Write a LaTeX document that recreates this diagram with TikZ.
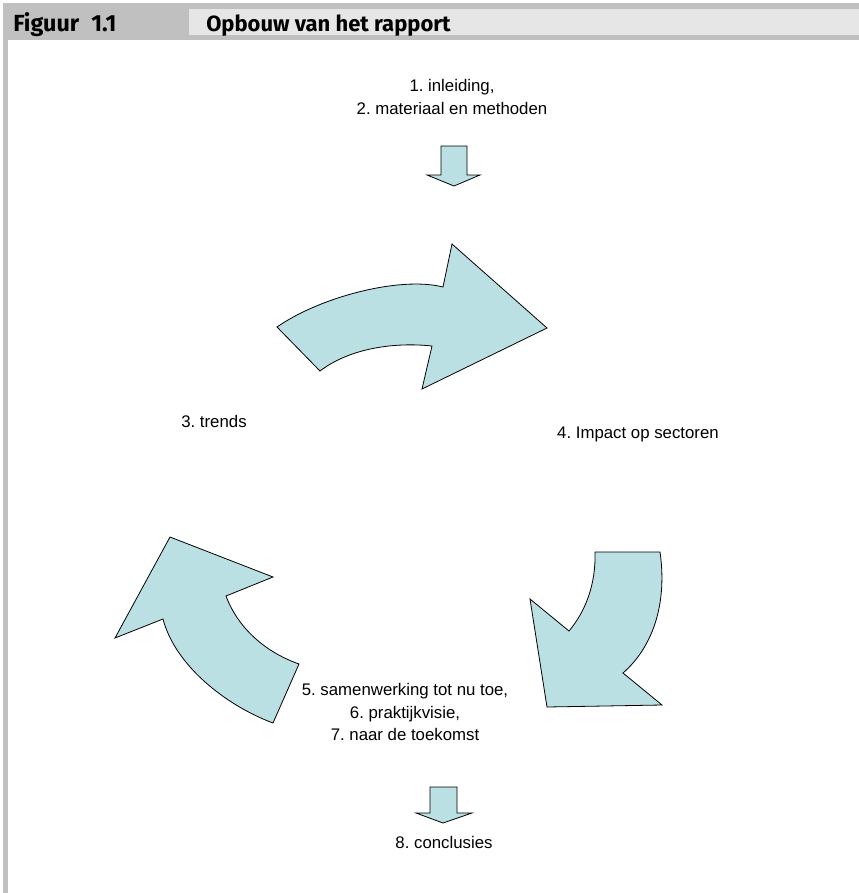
\documentclass[tikz,border=0pt]{standalone}
\usepackage{fontspec}
\setmainfont{Liberation Sans}
\newfontfamily\kopfont{Fira Sans}
\usetikzlibrary{positioning}
\definecolor{pijlblauw}{HTML}{BBE0E3}
\definecolor{kopgrijs}{HTML}{C0C0C0}
\definecolor{koplicht}{HTML}{E6E6E6}
\frenchspacing

\begin{document}
\begin{tikzpicture}[x=0.75pt,y=-0.75pt,
  pijl/.style={draw=black,fill=pijlblauw,line width=0.6pt,line join=miter},
  tekst/.style={align=center,font=\fontsize{12.6}{17}\selectfont,inner sep=0pt},
  kop/.style={anchor=base west,inner sep=0pt,font=\kopfont\bfseries\fontsize{16.5}{20}\selectfont}]
\useasboundingbox (0,0) rectangle (859,893);
% kopbalk en kader
\fill[kopgrijs] (3,3) rectangle (859,40);
\fill[koplicht] (189,9) rectangle (859,35);
\fill[kopgrijs] (3,40) rectangle (7.5,893);
\node[kop,font=\kopfont\bfseries\fontsize{17.5}{20}\selectfont] (fig) at (13,31.5) {Figuur\hspace{5pt} 1.1};
\node[kop] (titel) at (206,31.5) {Opbouw van het rapport};
% teksten
\node[tekst] (inl) at (452,97) {1. inleiding,\\2. materiaal en methoden};
\node[tekst] (trends) at (214,421) {3. trends};
\node[tekst] (impact) at (638,434) {4. Impact op sectoren};
\node[tekst] (samen) at (405,712) {5. samenwerking tot nu toe,\\6. praktijkvisie,\\7. naar de toekomst};
\node[tekst] (concl) at (444,842) {8. conclusies};
% kleine pijlen
\draw[pijl] (441,146) -- (467,146) -- (467,175) -- (480,175) -- (454,186) -- (427,175) -- (441,175) -- cycle;
\draw[pijl] (430,787) -- (457,787) -- (457,813) -- (472,813) -- (443,823) -- (416,813) -- (430,813) -- cycle;
% gebogen pijlen
\draw[pijl] (277,327) .. controls (320,297) and (400,276) .. (443,287) -- (452,244) -- (547,328)
  -- (422,389) -- (432,346) .. controls (395,342) and (350,348) .. (320,371) -- cycle;
\draw[pijl] (660,552) .. controls (667,600) and (655,645) .. (623,673) -- (662,705) -- (547,707)
  -- (530,599) -- (569,631) .. controls (585,612) and (596,585) .. (595,552) -- cycle;
\draw[pijl] (299,664) -- (273,723) .. controls (225,705) and (175,665) .. (163,619) -- (115,638)
  -- (170,537) -- (273,577) -- (226,596) .. controls (238,628) and (265,652) .. (299,664) -- cycle;
\end{tikzpicture}
\end{document}
